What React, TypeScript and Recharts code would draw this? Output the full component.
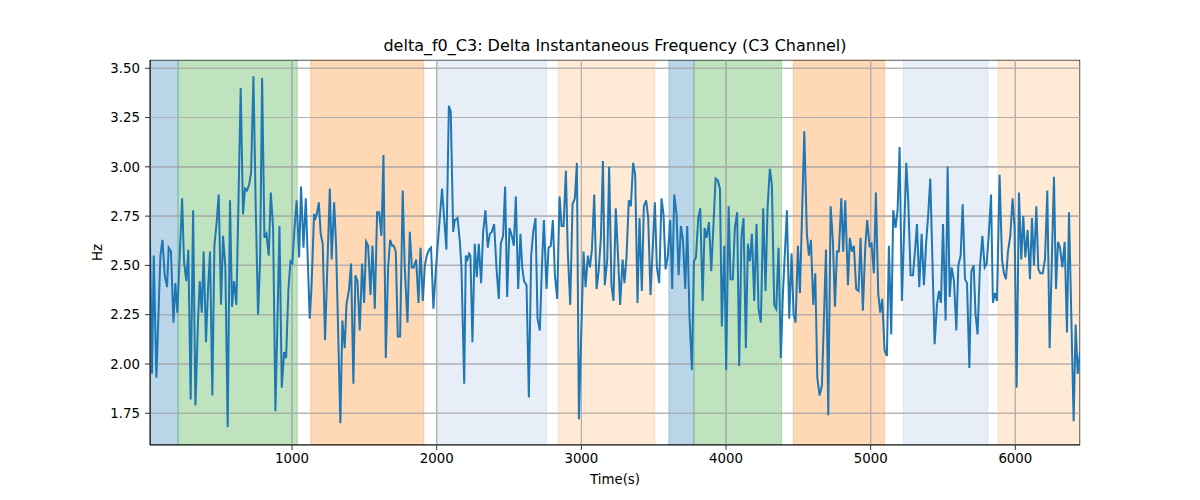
import React from 'react';
import { LineChart, Line, XAxis, YAxis, CartesianGrid, ReferenceArea, ReferenceLine } from 'recharts';

// [time (s), delta f0 (Hz)]
const deltaTrace: [number, number][] = [
  [18, 2.62], [32, 1.95], [44, 2.55], [62, 1.93], [90, 2.55], [104, 2.63], [120, 2.45], [136, 2.39],
  [147, 2.59], [163, 2.57], [180, 2.21], [193, 2.41], [207, 2.26], [240, 2.84], [253, 2.52], [269, 2.42],
  [283, 2.58], [299, 1.82], [316, 2.78], [332, 1.79], [350, 2.22], [362, 2.42], [376, 2.26], [389, 2.57],
  [405, 2.11], [419, 2.38], [433, 2.57], [449, 1.84], [463, 2.6], [479, 2.72], [493, 2.86], [509, 2.3],
  [523, 2.65], [539, 2.49], [555, 1.68], [571, 2.83], [585, 2.29], [599, 2.42], [615, 2.3], [629, 2.8],
  [645, 3.4], [661, 2.76], [675, 2.89], [689, 2.88], [703, 2.91], [717, 2.97], [733, 3.46], [749, 2.79],
  [765, 2.25], [779, 2.52], [793, 3.45], [809, 2.64], [823, 2.66], [839, 2.55], [853, 2.87], [869, 2.69],
  [885, 1.76], [899, 2.22], [913, 2.7], [929, 1.88], [945, 2.06], [959, 2.03], [975, 2.38], [989, 2.52],
  [1002, 2.51], [1019, 2.71], [1032, 2.83], [1049, 2.54], [1062, 2.9], [1079, 2.59], [1095, 2.84], [1122, 2.23],
  [1134, 2.38], [1152, 2.76], [1162, 2.74], [1171, 2.76], [1185, 2.82], [1198, 2.66], [1212, 2.61], [1228, 2.12],
  [1261, 2.89], [1274, 2.53], [1291, 2.82], [1304, 2.61], [1334, 1.7], [1348, 2.22], [1364, 2.08], [1376, 2.3],
  [1394, 2.38], [1408, 2.51], [1424, 1.9], [1438, 2.45], [1452, 2.42], [1468, 2.17], [1484, 2.51], [1498, 2.31],
  [1512, 2.62], [1526, 2.6], [1542, 2.35], [1556, 2.6], [1572, 2.28], [1588, 2.77], [1602, 2.77], [1618, 2.65],
  [1632, 3.06], [1648, 2.03], [1664, 2.49], [1678, 2.63], [1692, 2.6], [1703, 2.6], [1717, 2.57], [1731, 2.14],
  [1747, 2.14], [1765, 2.88], [1779, 2.49], [1798, 2.21], [1814, 2.67], [1828, 2.49], [1841, 2.49], [1858, 2.53],
  [1874, 2.31], [1888, 2.59], [1904, 2.32], [1918, 2.5], [1931, 2.55], [1948, 2.58], [1961, 2.59], [1977, 2.28],
  [1993, 2.47], [2037, 2.89], [2067, 2.58], [2084, 3.31], [2097, 3.28], [2114, 2.67], [2125, 2.73], [2144, 2.74],
  [2160, 2.62], [2171, 2.49], [2190, 1.9], [2201, 2.55], [2213, 2.53], [2224, 2.56], [2233, 2.55], [2247, 2.11],
  [2263, 2.61], [2277, 2.44], [2291, 2.61], [2307, 2.41], [2321, 2.67], [2337, 2.78], [2353, 2.59], [2367, 2.66],
  [2381, 2.67], [2397, 2.71], [2413, 2.49], [2429, 2.33], [2443, 2.61], [2459, 2.65], [2473, 2.9], [2487, 2.34],
  [2503, 2.69], [2519, 2.65], [2533, 2.6], [2547, 2.85], [2563, 2.38], [2579, 2.66], [2591, 2.49], [2604, 2.42],
  [2621, 2.4], [2637, 1.83], [2653, 2.55], [2667, 2.67], [2683, 2.74], [2697, 2.23], [2713, 2.17], [2727, 2.49],
  [2741, 2.73], [2759, 2.38], [2773, 2.59], [2789, 2.6], [2803, 2.73], [2817, 2.45], [2833, 2.33], [2849, 2.85],
  [2863, 2.7], [2877, 2.7], [2893, 2.98], [2906, 2.57], [2923, 2.3], [2939, 2.81], [2955, 2.84], [2969, 3.02],
  [2983, 1.72], [3015, 2.57], [3029, 2.39], [3045, 2.55], [3059, 2.49], [3073, 2.58], [3089, 2.86], [3105, 2.38],
  [3119, 2.47], [3135, 2.64], [3149, 3.03], [3162, 2.4], [3179, 2.53], [3192, 3.0], [3208, 2.4], [3222, 2.32],
  [3238, 2.79], [3255, 2.52], [3268, 2.3], [3285, 2.53], [3298, 2.41], [3312, 2.54], [3328, 2.83], [3342, 2.8],
  [3358, 3.02], [3372, 2.96], [3388, 2.31], [3402, 2.74], [3418, 2.37], [3432, 2.8], [3448, 2.83], [3462, 2.74],
  [3478, 2.35], [3508, 2.82], [3522, 2.49], [3538, 2.41], [3554, 2.84], [3568, 2.76], [3582, 2.48], [3598, 2.55],
  [3614, 2.73], [3628, 2.38], [3642, 2.86], [3658, 2.76], [3672, 2.45], [3688, 2.7], [3702, 2.63], [3718, 2.38],
  [3732, 2.7], [3748, 2.23], [3764, 1.97], [3778, 2.52], [3792, 2.54], [3808, 2.74], [3822, 2.79], [3838, 2.32],
  [3852, 2.69], [3865, 2.64], [3882, 2.72], [3898, 2.47], [3914, 2.72], [3928, 2.94], [3944, 2.93], [3958, 2.89],
  [3971, 2.19], [3988, 2.6], [4001, 1.97], [4018, 2.8], [4031, 2.43], [4047, 2.43], [4061, 2.69], [4077, 2.77],
  [4091, 1.99], [4107, 2.65], [4121, 2.74], [4137, 2.08], [4151, 2.61], [4165, 2.52], [4179, 2.66], [4195, 2.32],
  [4211, 2.71], [4225, 2.28], [4241, 2.21], [4257, 2.79], [4273, 2.37], [4287, 2.79], [4303, 2.99], [4317, 2.91],
  [4333, 2.3], [4347, 2.28], [4363, 2.59], [4379, 2.03], [4393, 2.35], [4421, 2.78], [4437, 2.23], [4453, 2.56],
  [4467, 2.25], [4481, 2.21], [4497, 2.6], [4511, 2.36], [4541, 3.18], [4559, 2.66], [4573, 2.55], [4587, 2.63],
  [4603, 2.3], [4617, 2.46], [4631, 1.93], [4647, 1.84], [4663, 1.89], [4691, 2.58], [4707, 1.74], [4723, 2.8],
  [4739, 2.62], [4753, 2.29], [4767, 2.57], [4780, 2.57], [4797, 2.84], [4810, 2.57], [4824, 2.83], [4843, 2.4],
  [4856, 2.64], [4870, 2.57], [4884, 2.6], [4900, 2.38], [4916, 2.37], [4930, 2.64], [4946, 2.27], [4963, 2.6],
  [4976, 2.73], [4992, 2.6], [5006, 2.61], [5022, 2.46], [5036, 2.87], [5052, 2.36], [5066, 2.26], [5080, 2.33],
  [5096, 2.07], [5112, 2.04], [5126, 2.6], [5142, 2.15], [5156, 2.78], [5172, 2.69], [5186, 2.78], [5200, 3.1],
  [5216, 2.32], [5246, 3.02], [5260, 2.82], [5276, 2.45], [5292, 2.45], [5306, 2.57], [5320, 2.71], [5336, 2.39],
  [5352, 2.66], [5368, 2.4], [5384, 2.62], [5398, 2.76], [5412, 2.94], [5442, 2.1], [5458, 2.3], [5472, 2.37],
  [5486, 2.31], [5500, 2.71], [5518, 2.22], [5532, 3.0], [5546, 2.34], [5560, 2.49], [5576, 2.42], [5592, 2.17],
  [5606, 2.5], [5622, 2.55], [5636, 2.81], [5652, 2.43], [5666, 2.41], [5682, 1.98], [5696, 2.47], [5712, 2.5],
  [5725, 2.25], [5739, 2.15], [5755, 2.49], [5772, 2.65], [5788, 2.49], [5802, 2.51], [5815, 2.64], [5832, 2.86],
  [5845, 2.31], [5859, 2.36], [5873, 2.32], [5891, 2.96], [5908, 2.53], [5921, 2.46], [5935, 2.43], [5949, 2.57],
  [5965, 2.65], [5981, 2.84], [5995, 2.69], [6009, 1.88], [6025, 2.87], [6041, 2.53], [6055, 2.75], [6069, 2.54],
  [6085, 2.68], [6101, 2.43], [6115, 2.74], [6129, 2.5], [6145, 2.8], [6159, 2.48], [6173, 2.46], [6189, 2.46],
  [6205, 2.53], [6221, 2.88], [6237, 2.08], [6267, 2.95], [6281, 2.38], [6295, 2.62], [6309, 2.59], [6325, 2.49],
  [6341, 2.62], [6357, 2.16], [6371, 2.77], [6403, 1.71], [6417, 2.2], [6431, 1.95], [6447, 2.06],
];

// shaded state spans (start, end, state index)
const spanStart = [18, 212, 1129, 1998, 2840, 3605, 3778, 4465, 5225, 5880];
const spanEnd = [212, 1036, 1911, 2759, 3508, 3778, 4384, 5097, 5811, 6447];
const spanState = [0, 1, 2, 3, 4, 0, 1, 2, 3, 4];

const xTicks = [1000, 2000, 3000, 4000, 5000, 6000];
const yTicks = [1.75, 2.0, 2.25, 2.5, 2.75, 3.0, 3.25, 3.5];
const xDomain: [number, number] = [18, 6447];
const yDomain: [number, number] = [1.589, 3.542];

const STATE_COLORS = ['#1f77b4', '#2ca02c', '#ff7f0e', '#aec7e8', '#ffbb78'];
const GRID = '#b0b0b0';

const data = deltaTrace.map(([t, hz]) => ({ t, hz }));

const tickStyle = { fill: '#000', fontSize: 13.33 };

export default function App() {
  return (
    <div
      style={{
        position: 'absolute',
        left: 0,
        top: 0,
        width: 1200,
        height: 500,
        background: '#fff',
        fontFamily: '"DejaVu Sans", sans-serif',
      }}
    >
      <div
        style={{
          position: 'absolute',
          left: 150,
          width: 930,
          top: 36,
          textAlign: 'center',
          fontSize: 16,
          lineHeight: '20px',
          color: '#000',
        }}
      >
        delta_f0_C3: Delta Instantaneous Frequency (C3 Channel)
      </div>
      <LineChart width={1200} height={500} data={data} margin={{ top: 60, right: 120, bottom: 25, left: 0 }}>
        <CartesianGrid stroke={GRID} strokeWidth={1.1} />
        {spanStart.map((s, i) => (
          <ReferenceArea
            key={`span-${i}`}
            x1={s}
            x2={spanEnd[i]}
            fill={STATE_COLORS[spanState[i]]}
            fillOpacity={0.3}
            stroke={STATE_COLORS[spanState[i]]}
            strokeOpacity={0.3}
            ifOverflow="hidden"
          />
        ))}
        {/* grid drawn again over the spans, as matplotlib does */}
        {xTicks.map((v) => (
          <ReferenceLine key={`gx-${v}`} x={v} stroke={GRID} strokeWidth={1.1} />
        ))}
        {yTicks.map((v) => (
          <ReferenceLine key={`gy-${v}`} y={v} stroke={GRID} strokeWidth={1.1} />
        ))}
        <XAxis
          dataKey="t"
          type="number"
          domain={xDomain}
          ticks={xTicks}
          allowDataOverflow
          height={30}
          tickSize={5}
          tickMargin={4}
          tick={tickStyle}
          tickLine={{ stroke: '#000', strokeWidth: 0.8 }}
          axisLine={{ stroke: '#000', strokeWidth: 0.8 }}
          label={{ value: 'Time(s)', position: 'bottom', offset: 0, fill: '#000', fontSize: 13.33 }}
        />
        <YAxis
          type="number"
          domain={yDomain}
          ticks={yTicks}
          allowDataOverflow
          width={150}
          tickSize={5}
          tickMargin={5}
          tick={tickStyle}
          tickFormatter={(v: number) => v.toFixed(2)}
          tickLine={{ stroke: '#000', strokeWidth: 0.8 }}
          axisLine={{ stroke: '#000', strokeWidth: 0.8 }}
          label={{
            value: 'Hz',
            angle: -90,
            position: 'insideLeft',
            offset: 97,
            fill: '#000',
            fontSize: 13.33,
            style: { textAnchor: 'middle' },
          }}
        />
        <Line
          type="linear"
          dataKey="hz"
          stroke="#1f77b4"
          strokeWidth={2}
          dot={false}
          activeDot={false}
          isAnimationActive={false}
        />
        <ReferenceArea
          x1={xDomain[0]}
          x2={xDomain[1]}
          y1={yDomain[0]}
          y2={yDomain[1]}
          fill="none"
          stroke="#000"
          strokeWidth={0.8}
          ifOverflow="hidden"
        />
      </LineChart>
    </div>
  );
}
